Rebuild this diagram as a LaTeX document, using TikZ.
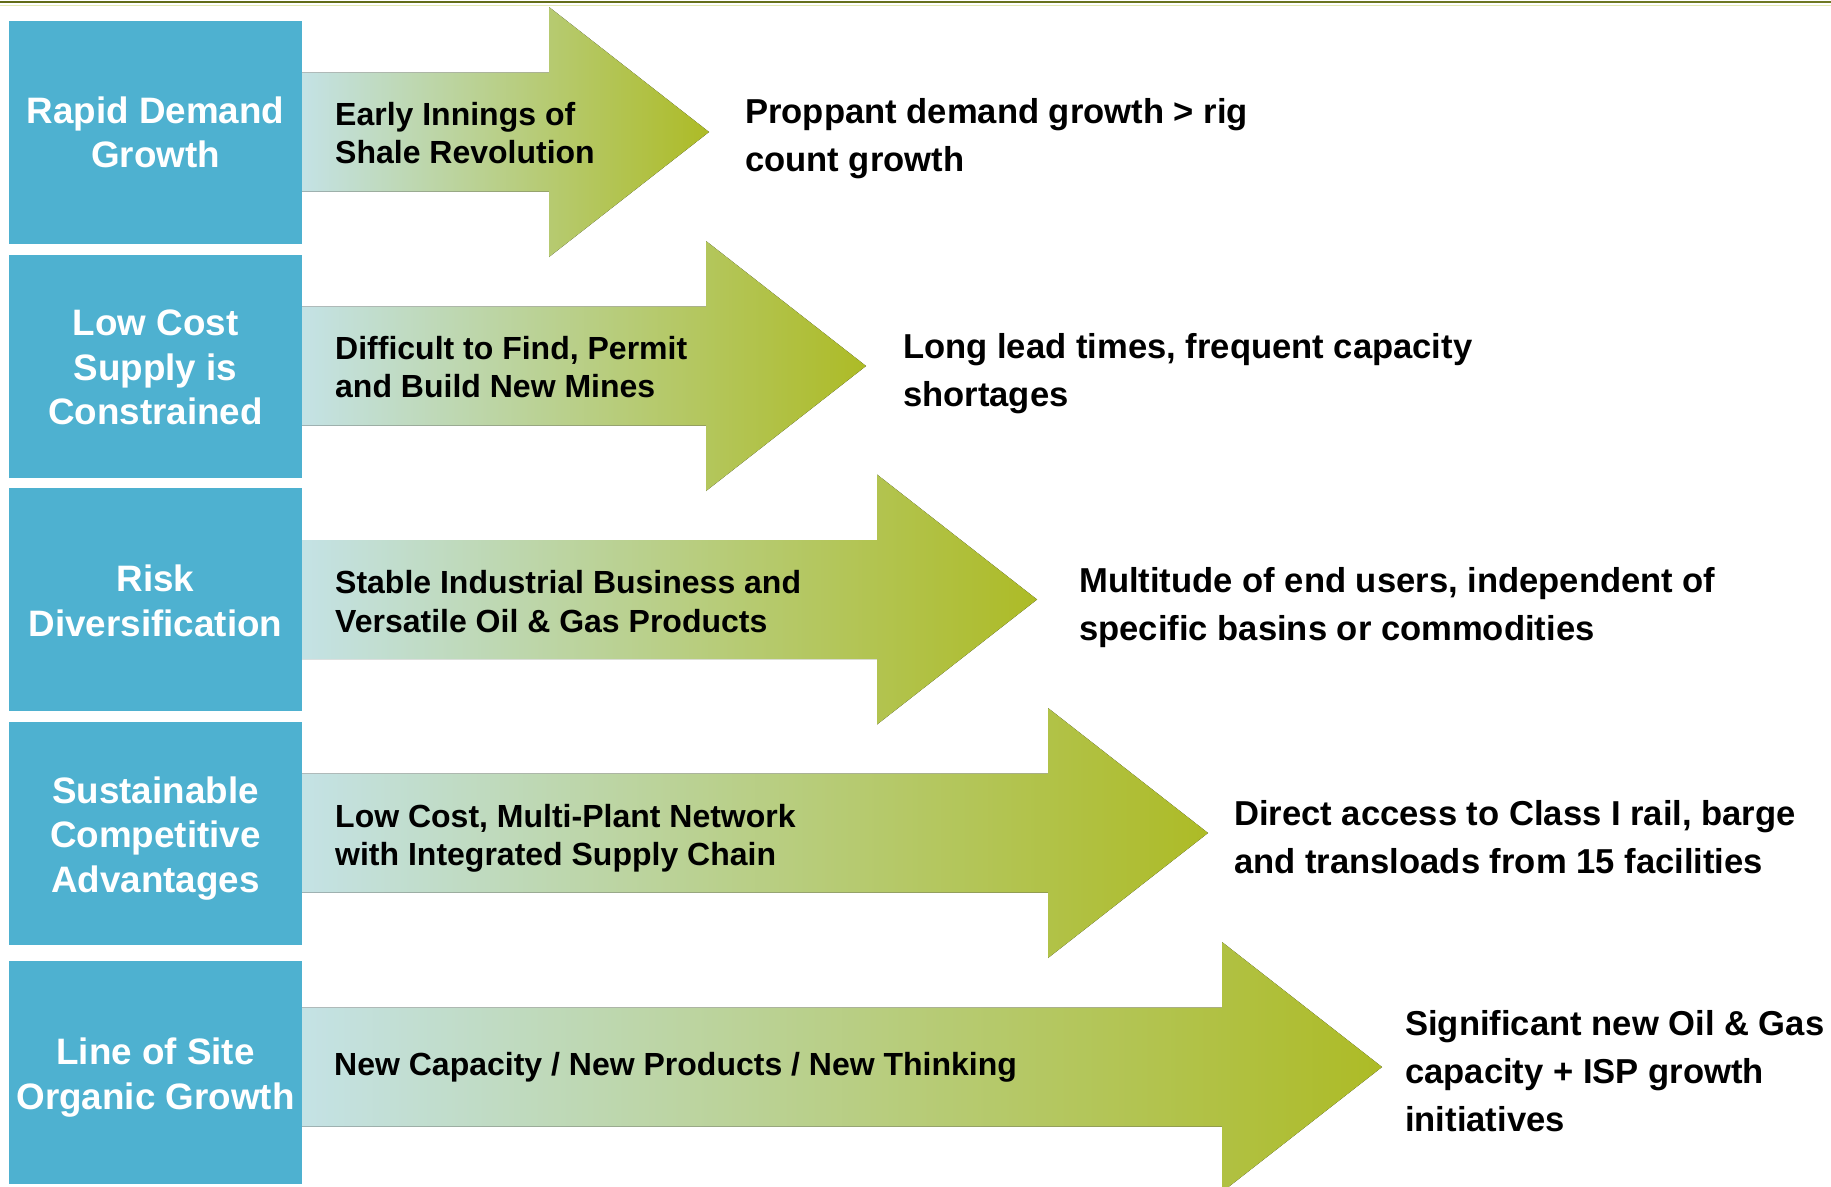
\documentclass[tikz,border=0pt]{standalone}
\usepackage{fontspec}
\setmainfont{Liberation Sans}
\usetikzlibrary{positioning}
\definecolor{boxblue}{RGB}{78,177,208}
\definecolor{arrleft}{RGB}{196,226,229}
\definecolor{arrright}{RGB}{173,187,38}
\definecolor{barA}{RGB}{160,174,42}
\definecolor{barB}{RGB}{98,108,24}
\definecolor{barC}{RGB}{196,207,110}
\definecolor{barD}{RGB}{210,218,128}
\pgfdeclarehorizontalshading{topbar}{10bp}{color(0bp)=(barA); color(300bp)=(barB); color(900bp)=(barB); color(1200bp)=(barC); color(1831bp)=(barD)}
\tikzset{
  leftbox/.style={fill=boxblue, draw=none, minimum width=293pt, minimum height=223pt, inner sep=0pt},
  boxtext/.style={inner sep=0pt, text=white, font=\bfseries\fontsize{36.8}{44.5}\selectfont, align=center},
  arrowshape/.style={left color=arrleft, right color=arrright, draw=none},
  arrtext/.style={anchor=west, inner sep=0pt, align=left, font=\bfseries\fontsize{32}{38.5}\selectfont},
  restext/.style={anchor=west, inner sep=0pt, align=left, font=\bfseries\fontsize{34.6}{48}\selectfont},
}
\newcommand{\bigarrow}[3]{% center y, head x, tip x
  \fill[arrowshape] (302,#1-59.5) -- (#2,#1-59.5) -- (#2,#1-125) -- (#3,#1) -- (#2,#1+125) -- (#2,#1+59.5) -- (302,#1+59.5) -- cycle;}
\begin{document}
\begin{tikzpicture}[x=1pt,y=-1pt]
\useasboundingbox (0,0) rectangle (1831,1186);
\clip (0,0) rectangle (1831,1186);
\fill[white] (0,0) rectangle (1831,1186);
% top bar
\shade[shading=topbar] (0,0) rectangle (1831,4.5);
\fill[barD!60!white] (0,4.5) rectangle (1831,6);
% arrows
\bigarrow{132}{549}{709}
\bigarrow{366}{706}{866}
\bigarrow{599.5}{877}{1037}
\bigarrow{833}{1048}{1208}
\bigarrow{1067}{1222}{1382}
% left boxes
\node[leftbox] (b1) at (155.5,132.5) {};
\node[leftbox] (b2) at (155.5,366.5) {};
\node[leftbox] (b3) at (155.5,599.5) {};
\node[leftbox] (b4) at (155.5,833.5) {};
\node[leftbox] (b5) at (155.5,1072) {};
\node[boxtext] (t1) at (b1.center) {Rapid Demand\\Growth};
\node[boxtext] (t2) at ([yshift=-1pt]b2.center) {Low Cost\\Supply is\\Constrained};
\node[boxtext] (t3) at ([yshift=-1.5pt]b3.center) {Risk\\Diversification};
\node[boxtext] (t4) at ([yshift=-5pt]b4.center) {Sustainable\\Competitive\\Advantages};
\node[boxtext] (t5) at ([yshift=-5.5pt]b5.center) {Line of Site\\Organic Growth};
% arrow texts
\node[arrtext] (a1) at (335,133) {Early Innings of\\Shale Revolution};
\node[arrtext] (a2) at (335,367) {Difficult to Find, Permit\\and Build New Mines};
\node[arrtext] (a3) at (335,601.5) {Stable Industrial Business and\\Versatile Oil \& Gas Products};
\node[arrtext] (a4) at (335,838.5) {Low Cost, Multi-Plant Network\\with Integrated Supply Chain};
\node[arrtext] (a5) at (334,1067.5) {New Capacity / New Products / New Thinking};
% result texts
\node[restext] (r1) at (745,138.5) {Proppant demand growth > rig\\count growth};
\node[restext] (r2) at (903,373.5) {Long lead times, frequent capacity\\shortages};
\node[restext] (r3) at (1079,608) {Multitude of end users, independent of\\specific basins or commodities};
\node[restext] (r4) at (1234,837) {Direct access to Class I rail, barge\\and transloads from 15 facilities};
\node[restext] (r5) at (1405,1071) {Significant new Oil \& Gas\\capacity + ISP growth\\initiatives};
\end{tikzpicture}
\end{document}
